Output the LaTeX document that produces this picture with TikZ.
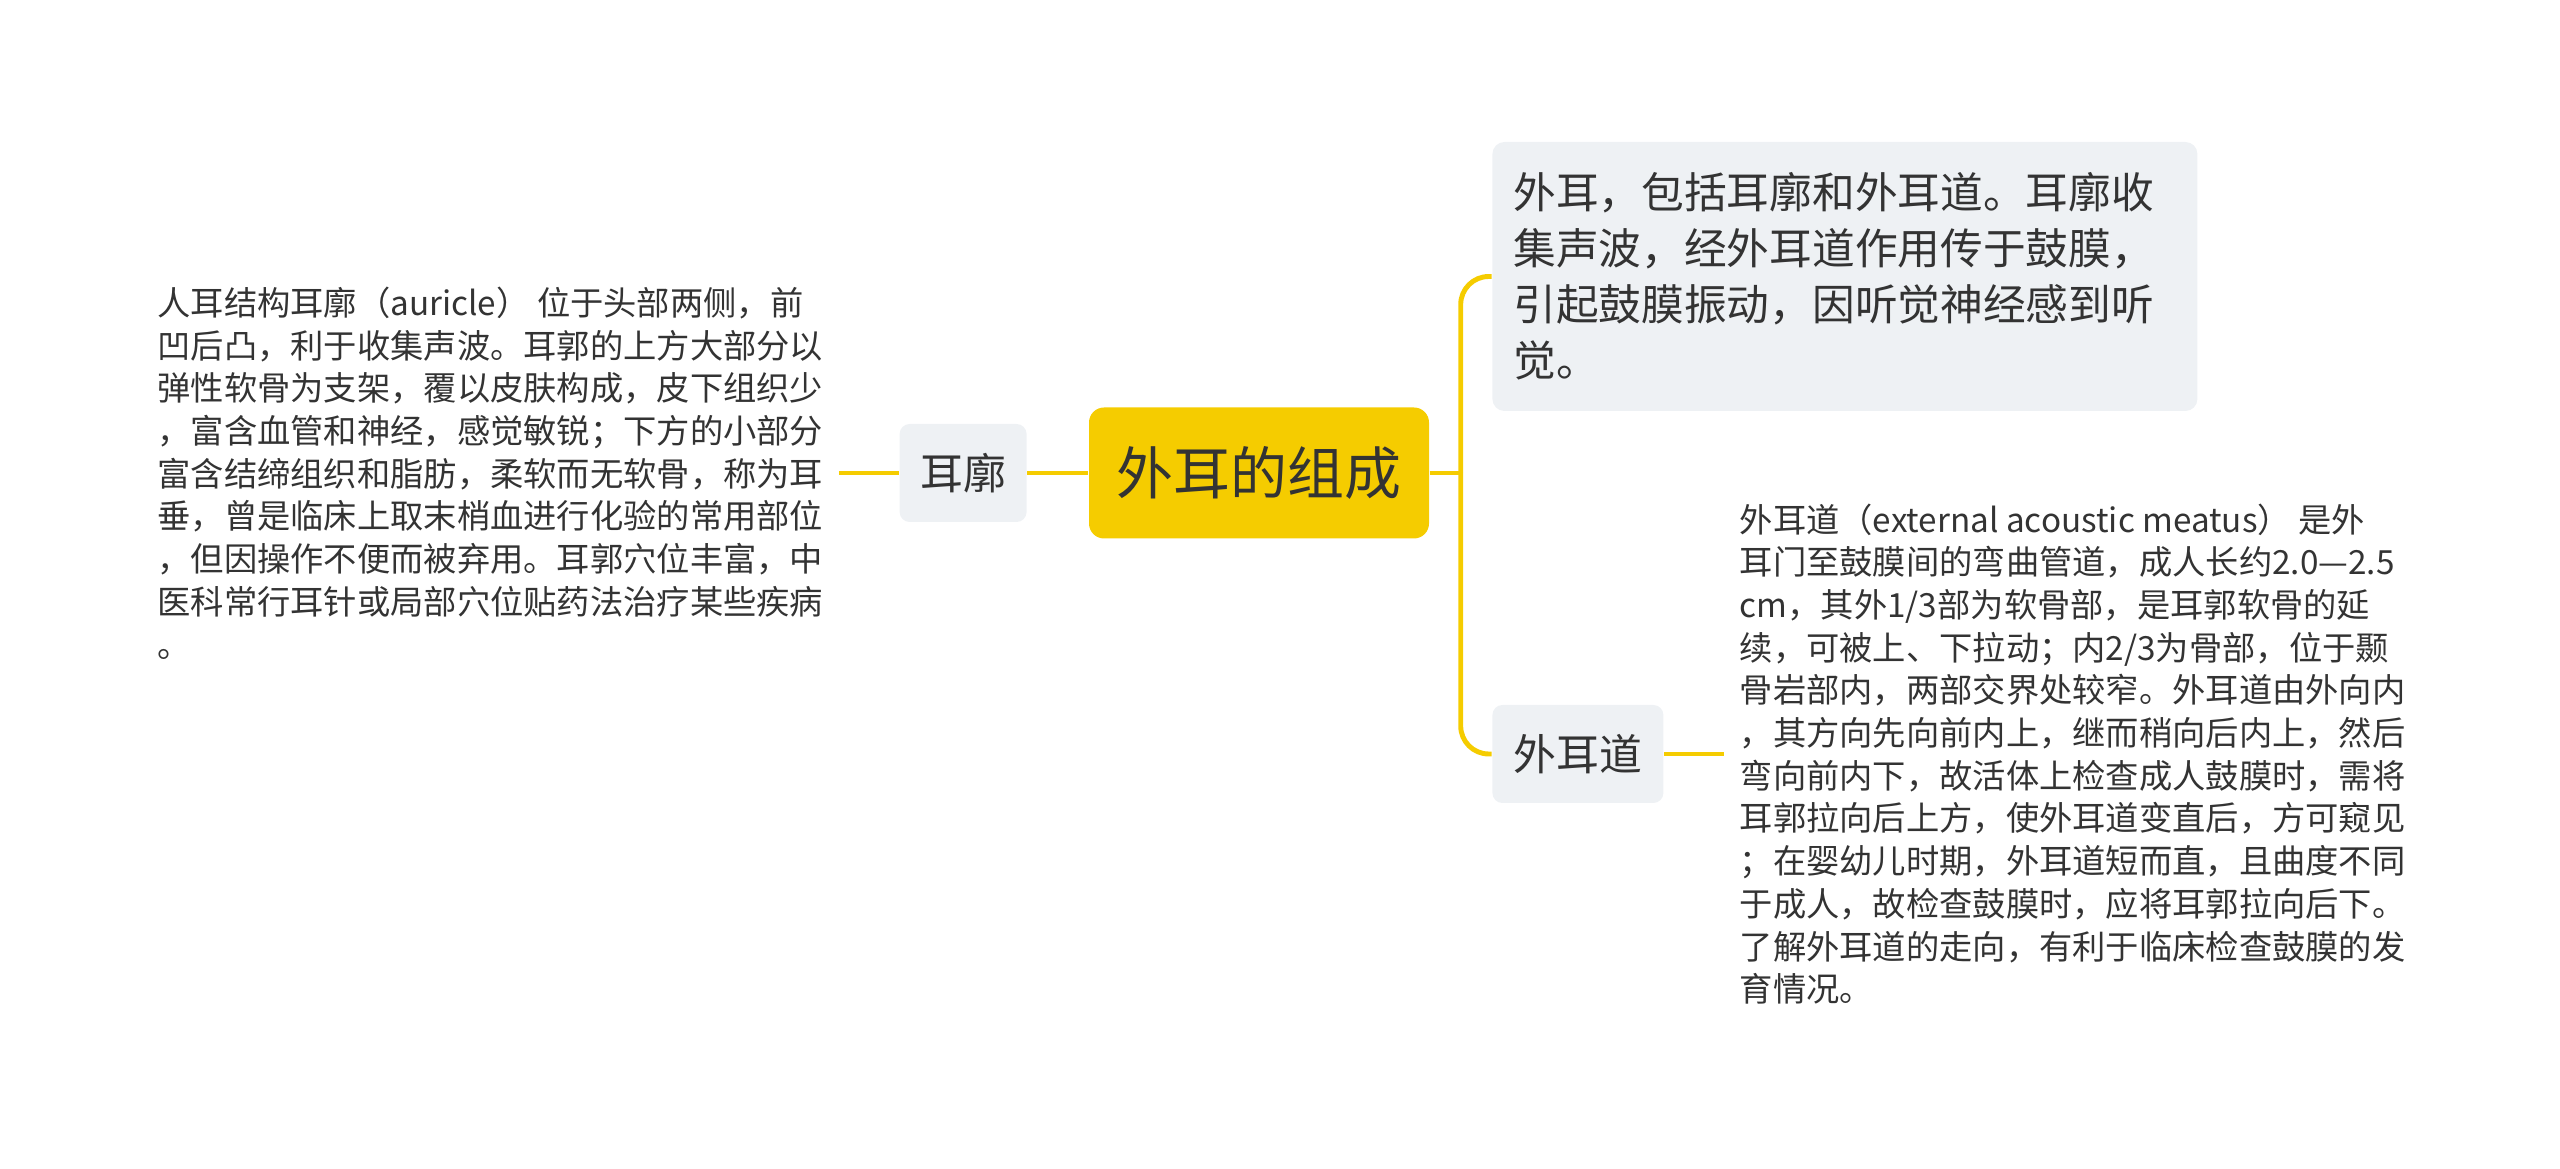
\documentclass[tikz,border=0pt]{standalone}
\usepackage{fontspec}
\setmainfont{Noto Sans CJK SC}
\usepackage{xcolor}
\usetikzlibrary{positioning}
\definecolor{mmyellow}{RGB}{245,204,0}
\definecolor{mmgray}{RGB}{238,241,244}
\definecolor{mmtext}{RGB}{51,51,51}
\tikzset{
  link/.style={draw=mmyellow,line width=1.4pt},
  topic/.style={fill=mmgray,rounded corners=0.1cm,text=mmtext,
    minimum height=0.98cm,inner sep=0pt,font=\fontsize{12.2pt}{14pt}\selectfont},
  note/.style={align=left,inner xsep=0.15cm,inner ysep=0pt,text=mmtext,
    font=\fontsize{9.47pt}{12.15pt}\selectfont}
}

\begin{document}
\begin{tikzpicture}
  \useasboundingbox (0,0) rectangle (25.6,11.69);

  \node (wez) [fill=mmyellow,rounded corners=0.15cm,text=mmtext,
    minimum width=3.4cm,minimum height=1.31cm,inner sep=0pt,
    font=\fontsize{16.2pt}{18pt}\selectfont] at (12.59,6.96) {外耳的组成};

  % left branch
  \node (ek) [topic,minimum width=1.27cm,left=0.61cm of wez] {耳廓};
  \node (ekt) [note,left=0.6cm of ek] {人耳结构耳廓（auricle） 位于头部两侧，前\\
    凹后凸，利于收集声波。耳郭的上方大部分以\\
    弹性软骨为支架，覆以皮肤构成，皮下组织少\\
    ，富含血管和神经，感觉敏锐；下方的小部分\\
    富含结缔组织和脂肪，柔软而无软骨，称为耳\\
    垂，曾是临床上取末梢血进行化验的常用部位\\
    ，但因操作不便而被弃用。耳郭穴位丰富，中\\
    医科常行耳针或局部穴位贴药法治疗某些疾病\\
    。};

  % right branches
  \node (we) [fill=mmgray,rounded corners=0.12cm,text=mmtext,align=left,
    text width=6.63cm,minimum height=2.69cm,inner xsep=0.21cm,inner ysep=0pt,
    font=\fontsize{12.15pt}{15.9pt}\selectfont,
    right=0.62cm of wez,yshift=1.965cm] {外耳，包括耳廓和外耳道。耳廓收\\
    集声波，经外耳道作用传于鼓膜，\\
    引起鼓膜振动，因听觉神经感到听\\
    觉。};
  \node (wed) [topic,minimum width=1.71cm,right=0.62cm of wez,yshift=-2.81cm] {外耳道};
  \node (wedt) [note,right=0.6cm of wed] {外耳道（external acoustic meatus） 是外\\
    耳门至鼓膜间的弯曲管道，成人长约2.0—2.5\\
    cm，其外1/3部为软骨部，是耳郭软骨的延\\
    续，可被上、下拉动；内2/3为骨部，位于颞\\
    骨岩部内，两部交界处较窄。外耳道由外向内\\
    ，其方向先向前内上，继而稍向后内上，然后\\
    弯向前内下，故活体上检查成人鼓膜时，需将\\
    耳郭拉向后上方，使外耳道变直后，方可窥见\\
    ；在婴幼儿时期，外耳道短而直，且曲度不同\\
    于成人，故检查鼓膜时，应将耳郭拉向后下。\\
    了解外耳道的走向，有利于临床检查鼓膜的发\\
    育情况。};

  \draw[link] (ekt) -- (ek);
  \draw[link] (ek) -- (wez);
  \draw[link] (wez.east) -- ++(0.31,0) coordinate (fork);
  \draw[link,rounded corners=0.28cm] (fork) |- (we.west);
  \draw[link,rounded corners=0.28cm] (fork) |- (wed.west);
  \draw[link] (wed) -- (wedt);
\end{tikzpicture}
\end{document}
